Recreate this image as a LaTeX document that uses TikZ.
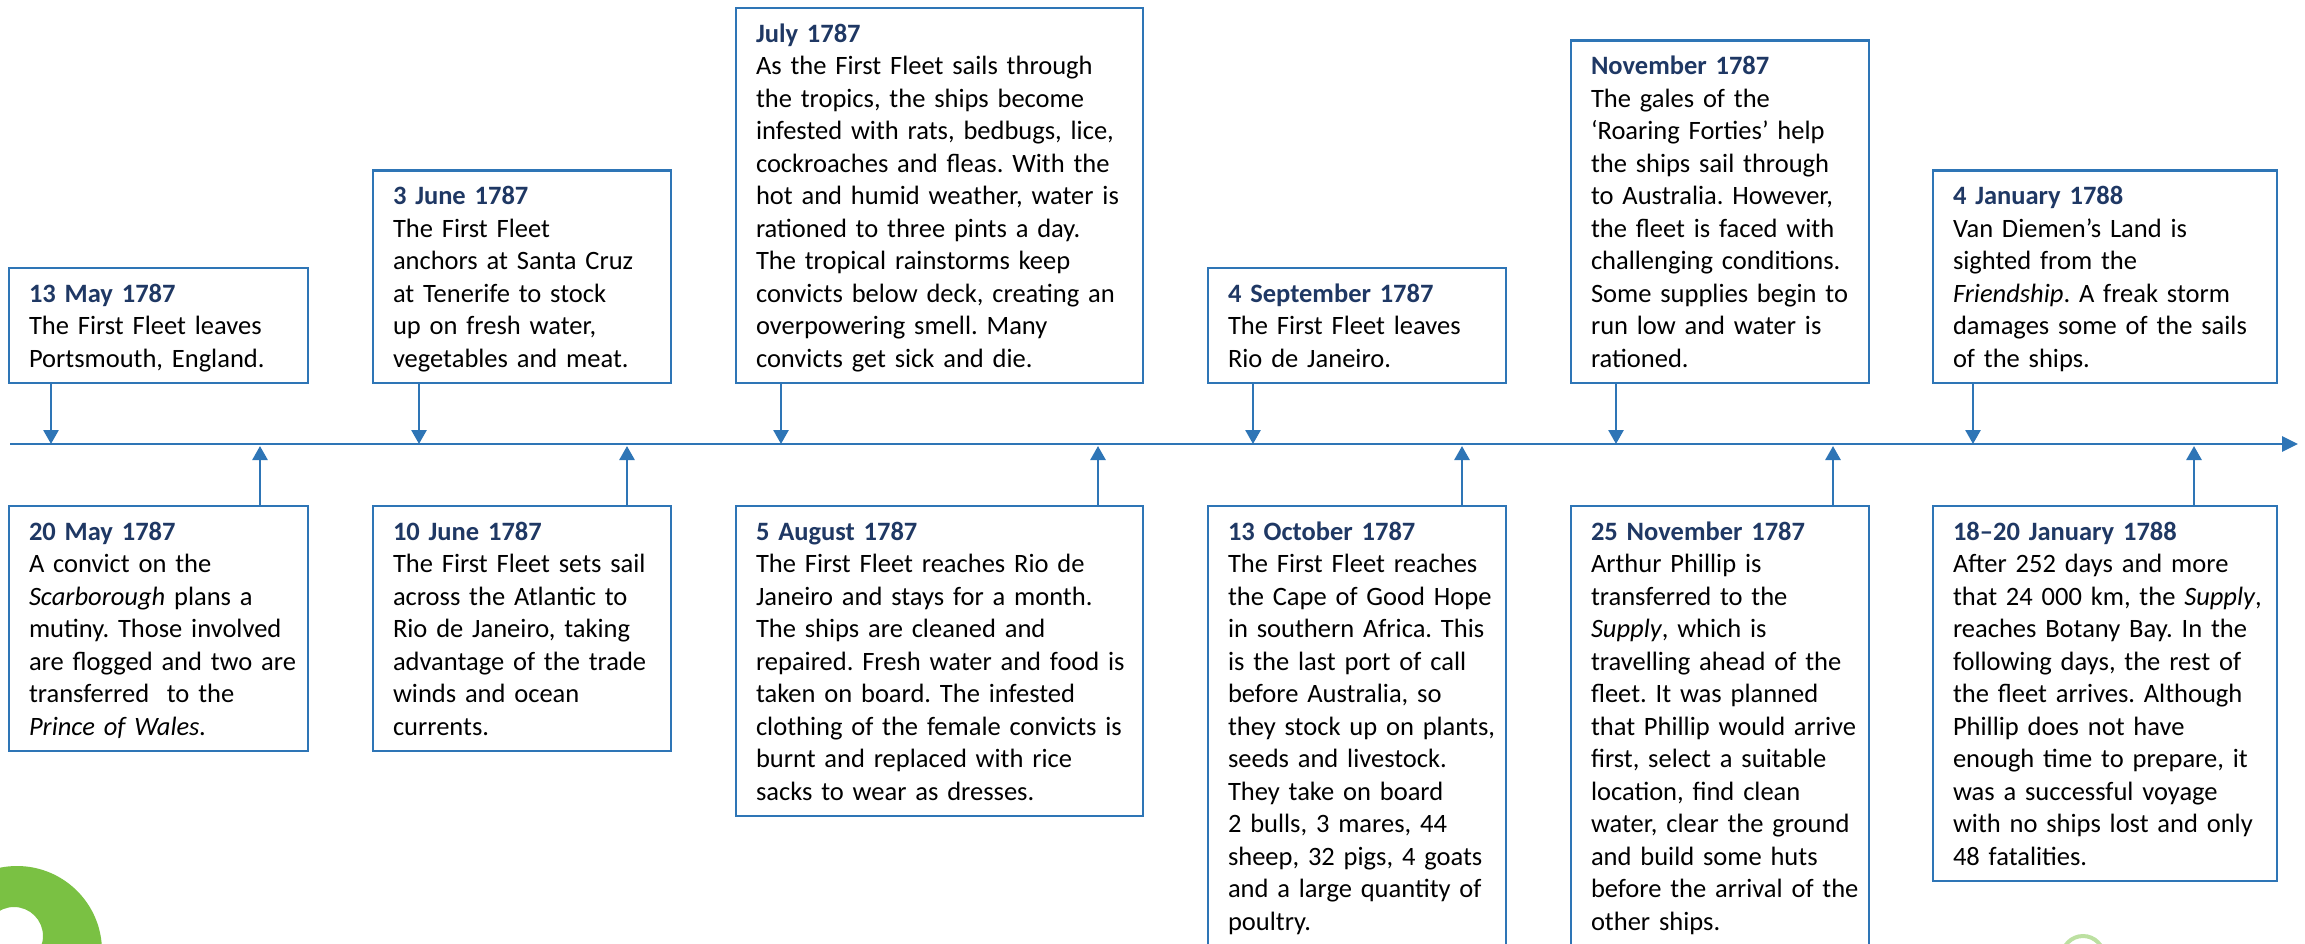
\documentclass[tikz,border=0pt]{standalone}
\usepackage{fontspec}
\setmainfont{Carlito}
\usetikzlibrary{arrows.meta,positioning}
\definecolor{lineblue}{HTML}{2E75B6}
\definecolor{dateblue}{HTML}{1F3864}
\definecolor{logogreen}{HTML}{7AC143}
\newcommand{\evdate}[1]{\rule{0pt}{34pt}{\bfseries\color{dateblue}#1}\\}
\frenchspacing
\hfuzz=40pt

\begin{document}
\begin{tikzpicture}[x=1pt, y=-1pt,
    event/.style={draw=lineblue, line width=2.2pt, fill=white, inner xsep=20pt, inner ysep=0pt,
        outer sep=0pt, font=\fontsize{26.5}{32.5}\selectfont,
        execute at begin node={\frenchspacing\parindent=0pt\rightskip=0pt plus 1fil minus 24pt},
        execute at end node={\rule[-16pt]{0pt}{16pt}}},
    tick/.style={draw=lineblue, line width=2.7pt, -{Triangle[length=14pt,width=15pt]}}]
    \useasboundingbox (0,0) rectangle (2305,943);
    \clip (0,0) rectangle (2305,943);

    \fill[logogreen, even odd rule] (17,951) circle (85) (14,936) circle (29);
    \draw[logogreen!50, line width=4pt] (2083,957) circle (21);

    % the line of time
    \coordinate (start) at (10,444);
    \coordinate (finish) at (2298,444);
    \draw[tick, -{Triangle[length=16pt,width=15pt]}] (start) -- (finish);

    % above the line
    \node[event, anchor=south west, text width=259pt] (may13) at (9,383)
        {\evdate{13 May 1787}The First Fleet leaves\\Portsmouth, England.};
    \node[event, anchor=south west, text width=258pt] (jun3) at (373,383)
        {\evdate{3 June 1787}The First Fleet\\anchors at Santa Cruz\\at Tenerife to stock\\up on fresh water,\\vegetables and meat.};
    \node[event, anchor=south west, text width=367pt] (jul) at (736,383)
        {\evdate{July 1787}As the First Fleet sails through\\the tropics, the ships become\\infested with rats, bedbugs, lice,\\cockroaches and fleas. With the\\hot and humid weather, water is\\rationed to three pints a day.\\The tropical rainstorms keep\\convicts below deck, creating an\\overpowering smell. Many\\convicts get sick and die.};
    \node[event, anchor=south west, text width=258pt] (sep4) at (1208,383)
        {\evdate{4 September 1787}The First Fleet leaves\\Rio de Janeiro.};
    \node[event, anchor=south west, text width=258pt] (nov) at (1571,383)
        {\evdate{November 1787}The gales of the\\‘Roaring Forties’ help\\the ships sail through\\to Australia. However,\\the fleet is faced with\\challenging conditions.\\Some supplies begin to\\run low and water is\\rationed.};
    \node[event, anchor=south west, text width=304pt] (jan4) at (1933,383)
        {\evdate{4 January 1788}Van Diemen’s Land is\\sighted from the\\\textit{Friendship}. A freak storm\\damages some of the sails\\of the ships.};

    % below the line
    \node[event, anchor=north west, text width=259pt] (may20) at (9,506)
        {\evdate{20 May 1787}A convict on the\\\textit{Scarborough} plans a\\mutiny. Those involved\\are flogged and two are\\transferred\ \ to the\\\textit{Prince of Wales.}};
    \node[event, anchor=north west, text width=258pt] (jun10) at (373,506)
        {\evdate{10 June 1787}The First Fleet sets sail\\across the Atlantic to\\Rio de Janeiro, taking\\advantage of the trade\\winds and ocean\\currents.};
    \node[event, anchor=north west, text width=367pt] (aug5) at (736,506)
        {\evdate{5 August 1787}The First Fleet reaches Rio de\\Janeiro and stays for a month.\\The ships are cleaned and\\repaired. Fresh water and food is\\taken on board. The infested\\clothing of the female convicts is\\burnt and replaced with rice\\sacks to wear as dresses.};
    \node[event, anchor=north west, text width=258pt] (oct13) at (1208,506)
        {\evdate{13 October 1787}The First Fleet reaches\\the Cape of Good Hope\\in southern Africa. This\\is the last port of call\\before Australia, so\\\mbox{they stock up on plants,}\\seeds and livestock.\\They take on board\\2 bulls, 3 mares, 44\\sheep, 32 pigs, 4 goats\\and a large quantity of\\poultry.};
    \node[event, anchor=north west, text width=258pt] (nov25) at (1571,506)
        {\evdate{25 November 1787}Arthur Phillip is\\transferred to the\\\textit{Supply}, which is\\travelling ahead of the\\fleet. It was planned\\that Phillip would arrive\\first, select a suitable\\location, find clean\\water, clear the ground\\and build some huts\\\mbox{before the arrival of the}\\other ships.};
    \node[event, anchor=north west, text width=304pt] (jan18) at (1933,506)
        {\evdate{18–20 January 1788}After 252 days and more\\that 24 000 km, the \textit{Supply},\\reaches Botany Bay. In the\\following days, the rest of\\the fleet arrives. Although\\Phillip does not have\\enough time to prepare, it\\was a successful voyage\\with no ships lost and only\\48 fatalities.};

    % points on the line
    \coordinate (t1) at (51,444);
    \coordinate (t2) at (419,444);
    \coordinate (t3) at (781,444);
    \coordinate (t4) at (1253,444);
    \coordinate (t5) at (1616,444);
    \coordinate (t6) at (1973,444);
    \coordinate (b1) at (260,446);
    \coordinate (b2) at (627,446);
    \coordinate (b3) at (1098,446);
    \coordinate (b4) at (1462,446);
    \coordinate (b5) at (1833,446);
    \coordinate (b6) at (2194,446);

    \draw[tick] (may13.south -| t1) -- (t1);
    \draw[tick] (jun3.south -| t2) -- (t2);
    \draw[tick] (jul.south -| t3) -- (t3);
    \draw[tick] (sep4.south -| t4) -- (t4);
    \draw[tick] (nov.south -| t5) -- (t5);
    \draw[tick] (jan4.south -| t6) -- (t6);
    \draw[tick] (may20.north -| b1) -- (b1);
    \draw[tick] (jun10.north -| b2) -- (b2);
    \draw[tick] (aug5.north -| b3) -- (b3);
    \draw[tick] (oct13.north -| b4) -- (b4);
    \draw[tick] (nov25.north -| b5) -- (b5);
    \draw[tick] (jan18.north -| b6) -- (b6);
\end{tikzpicture}
\end{document}
